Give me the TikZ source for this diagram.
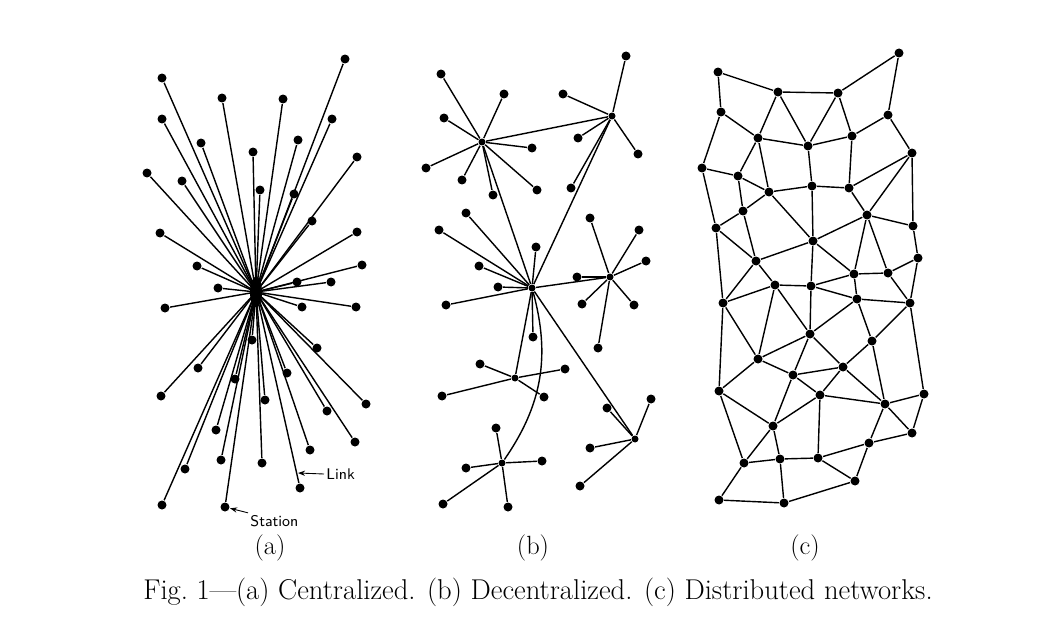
\documentclass[tikz,border=0pt]{standalone}
\usetikzlibrary{arrows.meta, shapes.geometric}
\tikzset{
  dot/.style={circle, fill=black, inner sep=0pt, minimum size=0.18cm},
  hubdot/.style={circle, fill=black, inner sep=0pt, minimum size=0.14cm},
  tag/.style={font=\sffamily\fontsize{8.8}{10}\selectfont, inner sep=1pt},
  sublabel/.style={font=\fontsize{15}{18}\selectfont}
}
\begin{document}
\begin{tikzpicture}[x={(0.02cm,0)}, y={(0,-0.02cm)}, line width=0.8pt, >={Stealth[length=4pt,width=3pt]}]
    \useasboundingbox (0,0) rectangle (1058,642);

    % (a) Centralized
    \node[ellipse, fill=black, minimum width=0.24cm, minimum height=0.62cm, inner sep=0pt] (hubA) at (256,292) {};
    \foreach \p [count=\k] in {(162,78), (222,98), (283,99), (345,59), (162,119), (332,119),
        (201,143), (298,140), (253,152), (357,157), (147,173), (182,181), (260,190),
        (294,194), (312,221), (160,233), (357,232), (197,266), (362,265), (218,288),
        (297,282), (331,282), (165,308), (302,307), (356,307), (252,340), (317,348),
        (198,368), (235,379), (287,373), (161,396), (265,400), (366,404), (327,411),
        (216,430), (355,442), (310,450), (221,460), (262,463), (185,469), (300,488),
        (162,505), (225,507)} {
        \node[dot] (a\k) at \p {};
        \draw (hubA.center) -- (a\k);
    }
    % Link and Station
    \node[tag, anchor=west] (link) at (324,474) {Link};
    \coordinate (linkpt) at (298,473);
    \draw[->, line width=0.5pt] (link.west) -- (linkpt);
    \node[tag, anchor=west] (station) at (248,521) {Station};
    \draw[->, line width=0.5pt] (station.north west) -- (a43);

    % (b) Decentralized
    \node[hubdot] (h1) at (482,142) {};
    \node[hubdot] (h2) at (612,116) {};
    \node[hubdot] (h3) at (532,288) {};
    \node[hubdot] (h4) at (610,277) {};
    \node[hubdot] (h5) at (515,378) {};
    \node[hubdot] (h6) at (502,463) {};
    \node[hubdot] (h7) at (635,439) {};
    \draw (h1) -- (h2);
    \draw (h1) -- (h3);
    \draw (h2) -- (h3);
    \draw (h3) -- (h4);
    \draw (h3) -- (h5);
    \draw (h3) -- (h7);
    \draw (h3) to[bend left=25] (h6);
    \foreach \p [count=\k] in {(441,74), (504,94), (444,118), (532,148), (426,168),
        (462,180), (493,195), (537,190)} {
        \node[dot] (b1-\k) at \p {};
        \draw (h1) -- (b1-\k);
    }
    \foreach \p [count=\k] in {(626,56), (563,94), (578,138), (638,154), (571,188)} {
        \node[dot] (b2-\k) at \p {};
        \draw (h2) -- (b2-\k);
    }
    \foreach \p [count=\k] in {(439,230), (466,213), (536,247), (479,266), (498,287),
        (446,305), (533,337)} {
        \node[dot] (b3-\k) at \p {};
        \draw (h3) -- (b3-\k);
    }
    \foreach \p [count=\k] in {(590,218), (639,230), (646,261), (577,277), (582,304),
        (634,305), (598,348)} {
        \node[dot] (b4-\k) at \p {};
        \draw (h4) -- (b4-\k);
    }
    \foreach \p [count=\k] in {(480,364), (565,369), (442,396), (544,397)} {
        \node[dot] (b5-\k) at \p {};
        \draw (h5) -- (b5-\k);
    }
    \foreach \p [count=\k] in {(496,428), (466,468), (542,461), (443,504), (508,507)} {
        \node[dot] (b6-\k) at \p {};
        \draw (h6) -- (b6-\k);
    }
    \foreach \p [count=\k] in {(607,408), (651,399), (590,448), (580,486)} {
        \node[dot] (b7-\k) at \p {};
        \draw (h7) -- (b7-\k);
    }

    % (c) Distributed
    \foreach \p [count=\k] in {(718,72), (778,92), (838,93), (899,53), (721,112),
        (888,115), (758,138), (808,146), (852,136), (702,168), (912,153), (738,176),
        (769,192), (812,186), (849,188), (743,211), (867,215), (716,228), (913,226),
        (813,241), (756,261), (918,258), (854,274), (888,273), (775,285), (811,286),
        (723,303), (857,299), (910,303), (810,334), (872,341), (758,359), (843,367),
        (793,375), (719,391), (820,395), (924,394), (885,404), (773,426), (912,433),
        (869,443), (744,463), (780,459), (818,458), (855,481), (719,500), (784,503)} {
        \node[dot] (c\k) at \p {};
    }
    \foreach \u/\v in {1/2, 2/3, 3/4, 4/6, 1/5, 5/7, 2/7, 2/8, 3/8, 3/9, 6/9, 6/11,
        7/8, 8/9, 5/10, 7/12, 7/13, 10/12, 12/13, 12/16, 10/18, 13/14, 14/15, 8/14,
        9/15, 11/15, 11/17, 11/19, 15/17, 13/16, 16/18, 13/20, 14/20, 17/20, 17/19,
        16/21, 18/21, 20/21, 19/22, 17/23, 17/24, 20/23, 20/26, 22/24, 23/24, 21/25,
        18/27, 21/27, 25/26, 25/27, 25/32, 25/30, 23/26, 26/28, 26/30, 23/28, 24/29,
        22/29, 28/29, 28/30, 28/31, 29/31, 29/37, 27/32, 27/35, 30/32, 30/34, 30/33,
        31/33, 31/38, 32/35, 32/34, 33/34, 34/36, 33/36, 33/38, 34/39, 35/39, 35/42,
        36/38, 36/39, 36/44, 37/38, 37/40, 38/40, 38/41, 39/42, 39/43, 42/43, 43/44,
        41/44, 40/41, 44/45, 41/45, 42/46, 43/47, 46/47, 45/47} {
        \draw (c\u) -- (c\v);
    }

    % labels and caption
    \node[sublabel] (labA) at (270,548) {(a)};
    \node[sublabel] (labB) at (533,548) {(b)};
    \node[sublabel] (labC) at (805,548) {(c)};
    \node[font=\fontsize{16.3}{19}\selectfont] (caption) at (538,592) {Fig.~1---(a) Centralized. (b) Decentralized. (c) Distributed networks.};
\end{tikzpicture}
\end{document}
